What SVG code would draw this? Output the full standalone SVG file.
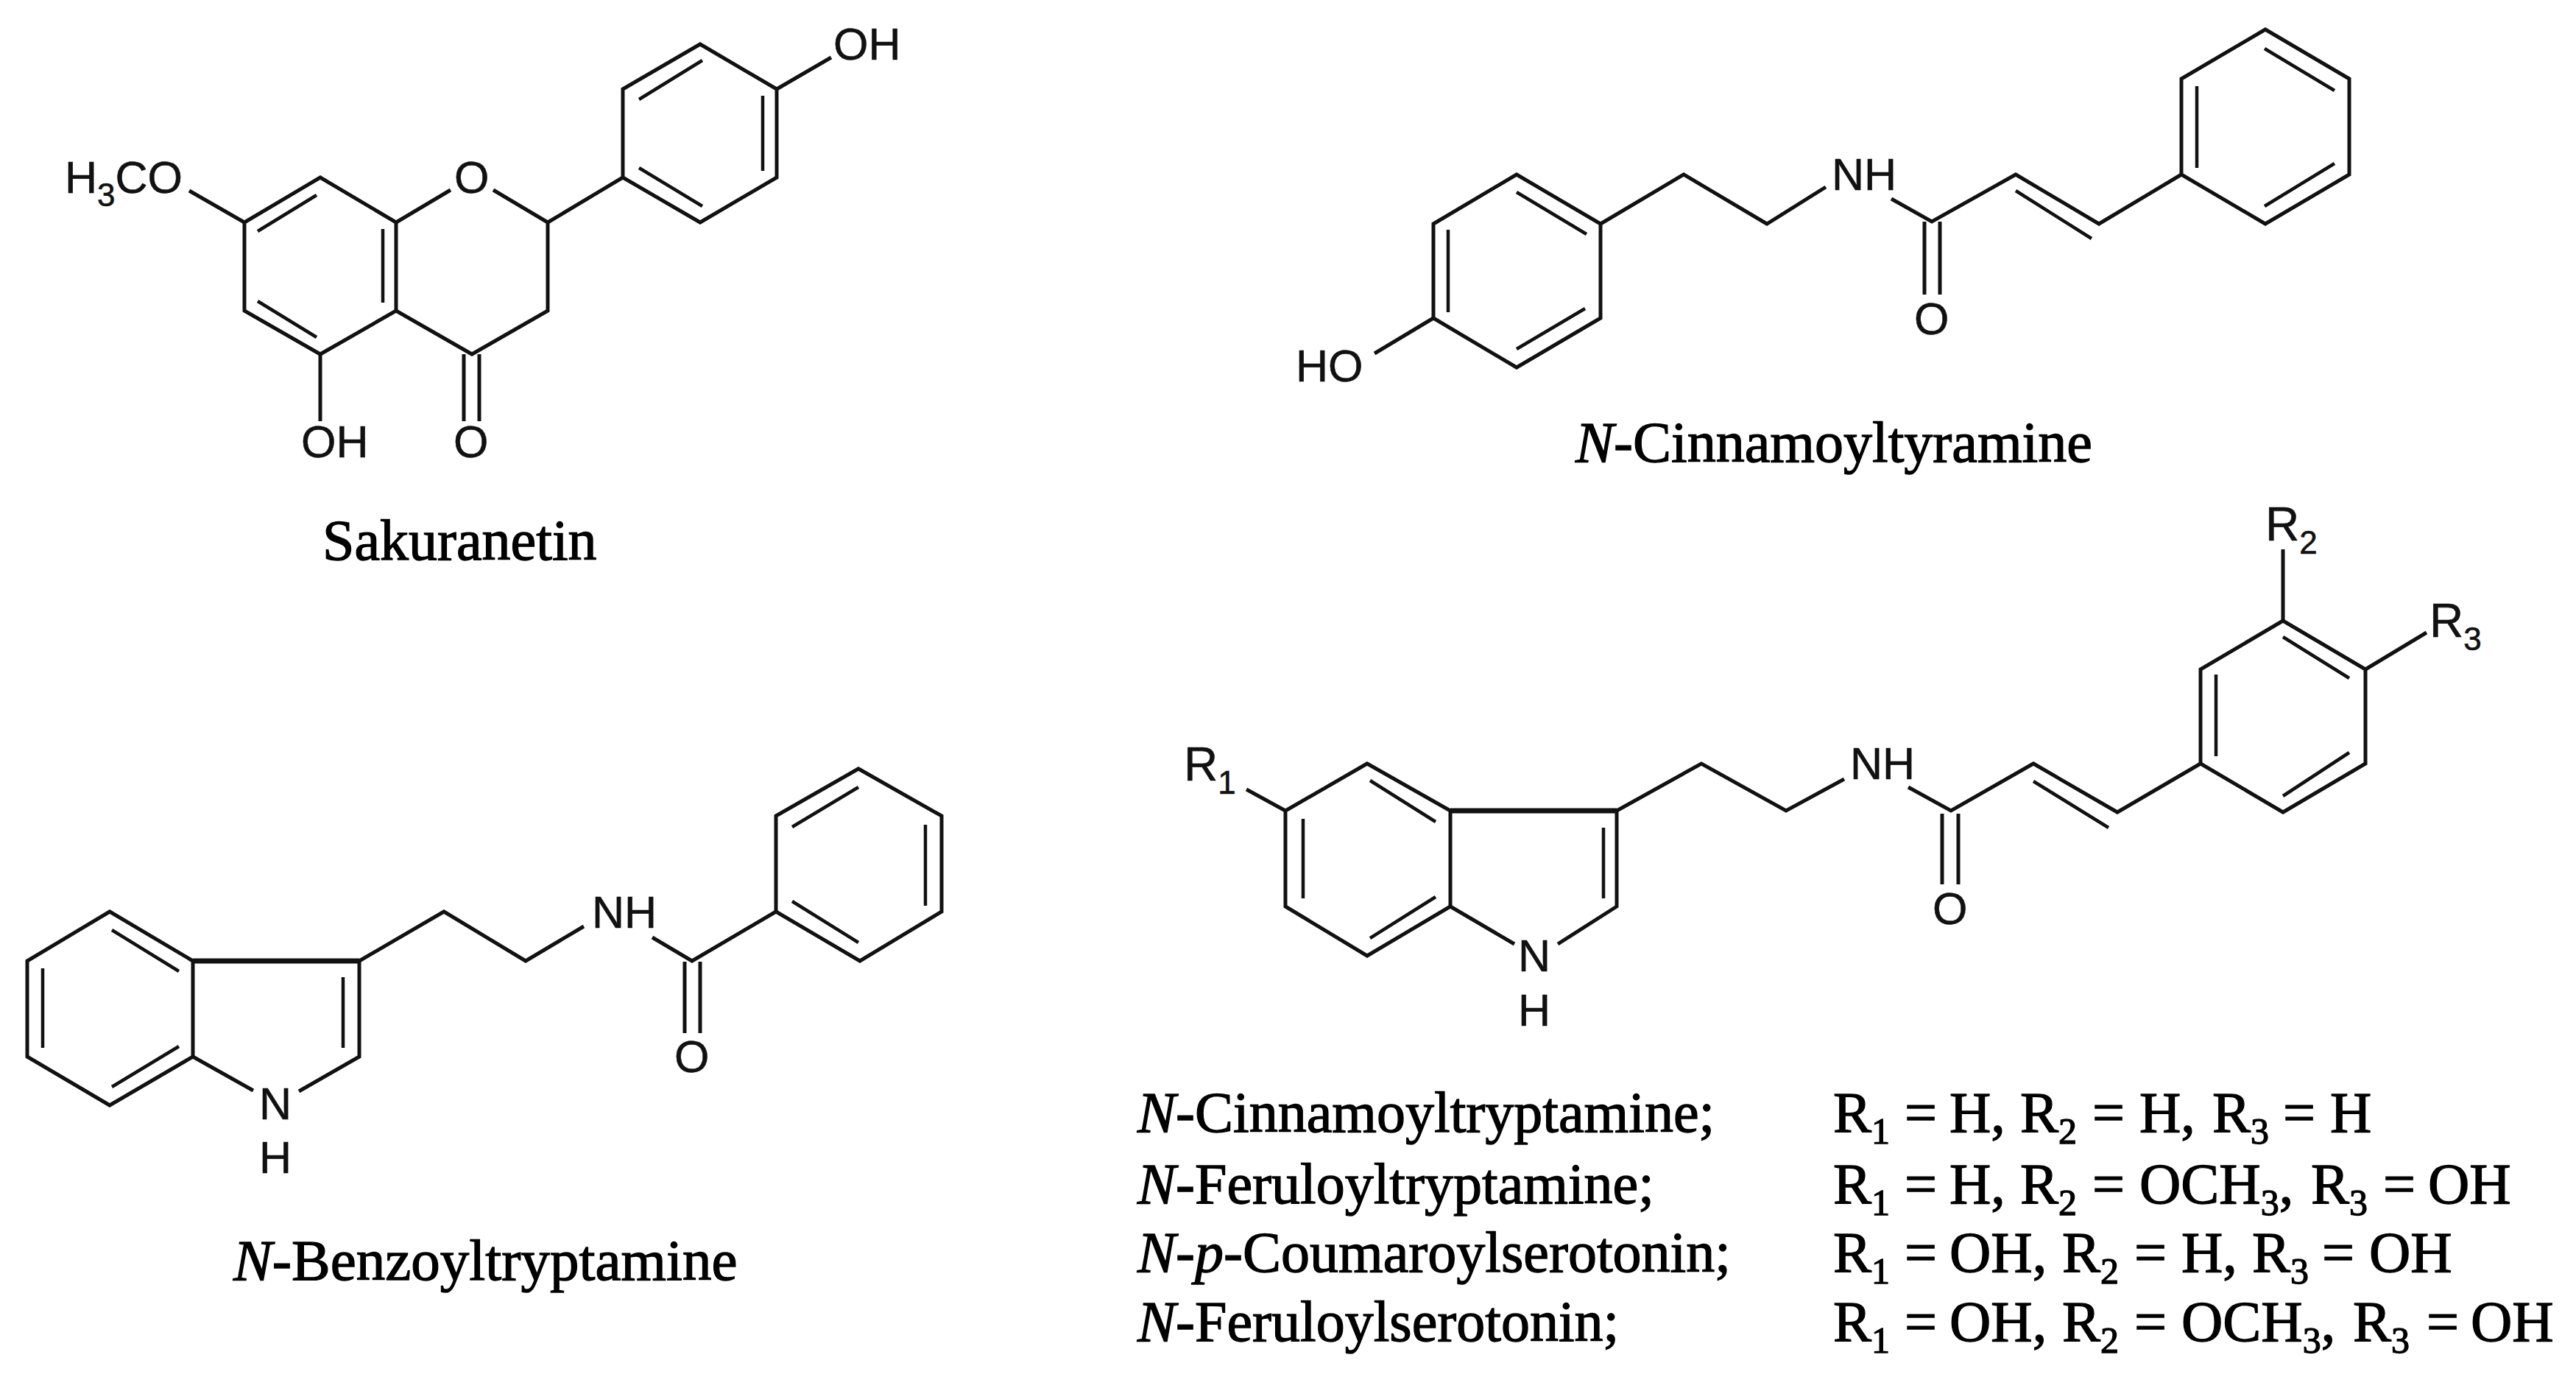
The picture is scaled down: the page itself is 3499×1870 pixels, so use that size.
<svg xmlns="http://www.w3.org/2000/svg" width="3499" height="1870" viewBox="0 0 3499 1870">
<style>
.b{fill:none;stroke:#111;stroke-width:5;stroke-linejoin:miter;stroke-linecap:butt}
.i{fill:none;stroke:#111;stroke-width:4.5}
.h{fill:none;stroke:#111;stroke-width:7}
.l{font-family:"Liberation Sans",Arial,sans-serif;font-size:61px;fill:#111;stroke:#111;stroke-width:.6}
.rg{font-family:"Liberation Sans",Arial,sans-serif;font-size:64px;fill:#111;stroke:#111;stroke-width:.6}
.t{font-family:"Liberation Serif","Times New Roman",serif;font-size:78px;fill:#000;stroke:#000;stroke-width:1.3}
.r{font-family:"Liberation Serif","Times New Roman",serif;font-size:78px;fill:#000;stroke:#000;stroke-width:1.3}
.it{font-style:italic}
</style>
<rect width="3499" height="1870" fill="#fff"/>
<g id="connectors">
<g id="bonds-sakuranetin">
<path class="b" d="M332 302L435 241L538 302L538 422L435 481L332 422Z"/>
<path class="b" d="M538 302L612 258M670 258L744 302L744 422L641 481L538 422"/>
<path class="b" d="M744 302L846 241L846 121L951 60L1055 121L1055 241L951 302L846 241"/>
<path class="b" d="M1055 121L1129 78M332 302L257 259M435 481L435 572M630 481L630 572M651 481L651 572"/>
<path class="i" d="M350 314L430 265M520 311L520 411M350 409L430 458M868 135L954 82M1036 130L1036 232M868 228L954 280"/>
</g>
<g id="bonds-cinnamoyltyramine">
<path class="b" d="M1947 304L2060 237L2174 304L2174 432L2060 499L1947 432Z"/>
<path class="b" d="M2174 304L2287 237L2400 304L2480 254M2569 270L2624 301L2738 237L2851 304L2963 237"/>
<path class="b" d="M2963 237L2963 107L3077 40L3191 107L3191 237L3077 304Z"/>
<path class="b" d="M1947 432L1867 480M2614 301L2614 400M2635 301L2635 400"/>
<path class="i" d="M2060 261L2155 318M1967 312L1967 424M2060 474L2153 419M2738 259L2841 324M3076 66L3171 123M2984 117L2984 228M3076 280L3171 222"/>
</g>
<g id="bonds-benzoyltryptamine">
<path class="b" d="M149 1238L262 1305L262 1435L149 1501L37 1435L37 1305Z"/>
<path class="h" d="M262 1305L488 1305"/>
<path class="b" d="M488 1305L488 1435L406 1482M262 1435L344 1481"/>
<path class="b" d="M488 1305L603 1238L714 1305L793 1258M886 1273L940 1305L1054 1238"/>
<path class="b" d="M1054 1238L1054 1108L1166 1044L1279 1108L1279 1238L1168 1305Z"/>
<path class="b" d="M930 1306L930 1403M951 1306L951 1403"/>
<path class="i" d="M152 1263L243 1319M58 1315L58 1423M152 1476L243 1421M466 1327L466 1423M1076 1123L1166 1069M1257 1120L1257 1230M1076 1224L1166 1280"/>
</g>
<g id="bonds-general">
<path class="b" d="M1857 1037L1970 1101L1970 1231L1857 1298L1746 1231L1746 1101Z"/>
<path class="h" d="M1970 1101L2196 1101"/>
<path class="b" d="M2196 1101L2196 1231L2116 1282M1970 1231L2057 1282" />
<path class="b" d="M2196 1101L2311 1037L2426 1101L2505 1058M2592 1069L2650 1101L2762 1037L2876 1103L2989 1037"/>
<path class="b" d="M2989 1037L2989 909L3101 843L3213 909L3213 1037L3101 1103Z"/>
<path class="b" d="M1746 1101L1693 1072M3101 843L3101 746M3213 909L3296 859M2638 1105L2638 1201M2660 1105L2660 1201"/>
<path class="i" d="M1861 1060L1950 1116M1770 1112L1770 1220M1861 1274L1950 1218M2178 1124L2178 1220M2762 1061L2864 1124M3101 865L3191 921M3010 916L3010 1027M3101 1081L3191 1022"/>
</g>
</g>
<g id="sakuranetin">
<text class="l" x="88" y="262">H<tspan font-size="44" dy="18">3</tspan><tspan dy="-18">CO</tspan></text>
<text class="l" x="617" y="262">O</text>
<text class="l" x="1132" y="81">OH</text>
<text class="l" x="409" y="621">OH</text>
<text class="l" x="616" y="621">O</text>
<text class="t" x="438" y="760">Sakuranetin</text>
</g>
<g id="n-cinnamoyltyramine">
<text class="l" x="2488" y="258">NH</text>
<text class="l" x="2600" y="454">O</text>
<text class="l" x="1760" y="518">HO</text>
<text class="t" x="2140" y="627"><tspan class="it">N</tspan>-Cinnamoyltyramine</text>
</g>
<g id="n-benzoyltryptamine">
<text class="l" x="804" y="1260">NH</text>
<text class="l" x="916" y="1456">O</text>
<text class="l" x="352" y="1520">N</text>
<text class="l" x="352" y="1593">H</text>
<text class="t" x="317" y="1738" font-size="79" style="font-size:79px"><tspan class="it">N</tspan>-Benzoyltryptamine</text>
</g>
<g id="general-structure">
<text class="rg" x="1608" y="1060">R<tspan font-size="44" dy="18">1</tspan></text>
<text class="l" x="2513" y="1058">NH</text>
<text class="l" x="2625" y="1255">O</text>
<text class="l" x="2062" y="1319">N</text>
<text class="l" x="2062" y="1393">H</text>
<text class="rg" x="3077" y="734">R<tspan font-size="44" dy="18">2</tspan></text>
<text class="rg" x="3300" y="865">R<tspan font-size="44" dy="18">3</tspan></text>
</g>
<g id="compound-table">
<text class="r" x="1545" y="1537"><tspan class="it">N</tspan>-Cinnamoyltryptamine;</text>
<text class="r" x="1545" y="1634"><tspan class="it">N</tspan>-Feruloyltryptamine;</text>
<text class="r" x="1545" y="1727"><tspan class="it">N</tspan>-<tspan class="it">p</tspan>-Coumaroylserotonin;</text>
<text class="r" x="1545" y="1821"><tspan class="it">N</tspan>-Feruloylserotonin;</text>
<text class="r" x="2490" y="1537">R<tspan font-size="50" dy="16">1</tspan><tspan x="2587" dy="-16">=</tspan><tspan x="2648">H,</tspan><tspan x="2744">R</tspan><tspan font-size="50" dy="16">2</tspan><tspan x="2842" dy="-16">=</tspan><tspan x="2906">H,</tspan><tspan x="3005">R</tspan><tspan font-size="50" dy="16">3</tspan><tspan x="3101" dy="-16">=</tspan><tspan x="3165">H</tspan></text>
<text class="r" x="2490" y="1634">R<tspan font-size="50" dy="16">1</tspan><tspan x="2587" dy="-16">=</tspan><tspan x="2648">H,</tspan><tspan x="2744">R</tspan><tspan font-size="50" dy="16">2</tspan><tspan x="2842" dy="-16">=</tspan><tspan x="2906">OCH</tspan><tspan font-size="50" dy="16">3</tspan><tspan dy="-16">,</tspan><tspan x="3139">R</tspan><tspan font-size="50" dy="16">3</tspan><tspan x="3237" dy="-16">=</tspan><tspan x="3298">OH</tspan></text>
<text class="r" x="2490" y="1727">R<tspan font-size="50" dy="16">1</tspan><tspan x="2587" dy="-16">=</tspan><tspan x="2648">OH,</tspan><tspan x="2801">R</tspan><tspan font-size="50" dy="16">2</tspan><tspan x="2899" dy="-16">=</tspan><tspan x="2963">H,</tspan><tspan x="3059">R</tspan><tspan font-size="50" dy="16">3</tspan><tspan x="3154" dy="-16">=</tspan><tspan x="3218">OH</tspan></text>
<text class="r" x="2490" y="1821">R<tspan font-size="50" dy="16">1</tspan><tspan x="2587" dy="-16">=</tspan><tspan x="2648">OH,</tspan><tspan x="2801">R</tspan><tspan font-size="50" dy="16">2</tspan><tspan x="2899" dy="-16">=</tspan><tspan x="2963">OCH</tspan><tspan font-size="50" dy="16">3</tspan><tspan dy="-16">,</tspan><tspan x="3196">R</tspan><tspan font-size="50" dy="16">3</tspan><tspan x="3296" dy="-16">=</tspan><tspan x="3356">OH</tspan></text>
</g>
</svg>
